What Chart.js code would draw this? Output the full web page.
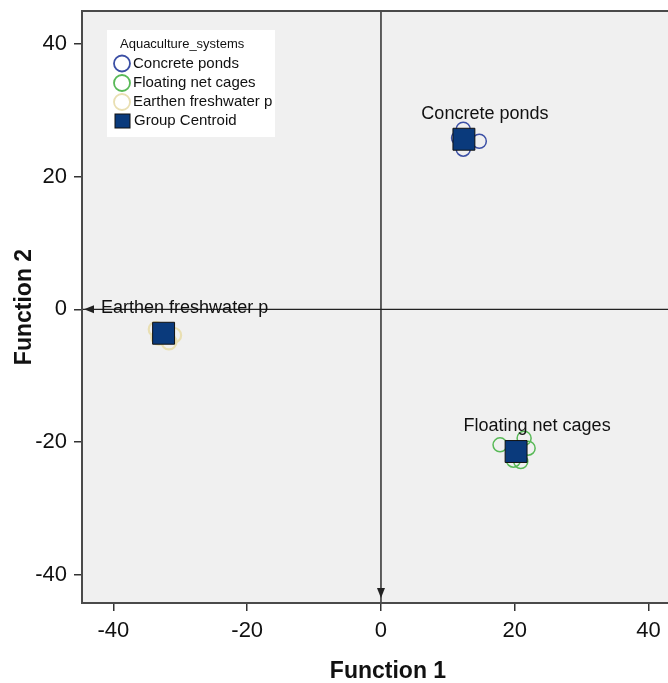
<!DOCTYPE html>
<html>
<head>
<meta charset="utf-8">
<script src="https://cdn.jsdelivr.net/npm/chart.js@4/dist/chart.umd.min.js"></script>
<style>
  html, body { margin: 0; padding: 0; background: #fff; overflow: hidden; }
  #wrap { width: 668px; height: 683px; overflow: hidden; }
</style>
</head>
<body>
<div id="wrap"><canvas id="c" width="694" height="683"></canvas></div>
<script>
// Discriminant scores per aquaculture system (Function 1, Function 2)
const groupNames = ['Concrete ponds', 'Floating net cages', 'Earthen freshwater p'];
const concreteF1 = [12.3, 11.6, 14.7, 12.3];
const concreteF2 = [27.1, 25.8, 25.3, 24.1];
const floatingF1 = [17.8, 21.4, 22.0, 19.8, 20.9];
const floatingF2 = [-20.4, -19.4, -20.9, -22.7, -22.9];
const earthenF1 = [-33.6, -33.2, -31.0, -31.7];
const earthenF2 = [-3.0, -4.2, -3.9, -4.9];
// Group centroids, same order as groupNames
const centroidF1 = [12.4, 20.2, -32.5];
const centroidF2 = [25.6, -21.4, -3.6];
const tickValues = [-40, -20, 0, 20, 40];
const legendTitle = 'Aquaculture_systems';
const centroidName = 'Group Centroid';

const groupColors = ['#3b4fa5', '#58b957', '#e9dfb2'];
const centroidFill = '#0a3a7c';
const FONT = '"Liberation Sans", Arial, Helvetica, sans-serif';

function pts(xs, ys) { return xs.map((x, i) => ({ x: x, y: ys[i] })); }

const plotBackground = {
  id: 'plotBackground',
  beforeDraw(chart) {
    const { ctx, chartArea: a } = chart;
    ctx.save();
    ctx.fillStyle = '#f0f0f0';
    ctx.fillRect(a.left, a.top, a.right - a.left, a.bottom - a.top);
    ctx.restore();
  }
};

// Zero reference lines with arrow heads at the lower / left ends
const zeroLines = {
  id: 'zeroLines',
  beforeDatasetsDraw(chart) {
    const { ctx, chartArea: a, scales } = chart;
    const x0 = scales.x.getPixelForValue(0);
    const y0 = scales.y.getPixelForValue(0);
    ctx.save();
    ctx.strokeStyle = '#222';
    ctx.fillStyle = '#222';
    ctx.lineWidth = 1.4;
    ctx.beginPath();
    ctx.moveTo(x0, a.top); ctx.lineTo(x0, a.bottom);
    ctx.moveTo(a.right, y0); ctx.lineTo(a.left, y0);
    ctx.stroke();
    // down arrow
    const tipY = a.bottom - 5;
    ctx.beginPath();
    ctx.moveTo(x0, tipY); ctx.lineTo(x0 - 4, tipY - 10); ctx.lineTo(x0 + 4, tipY - 10); ctx.closePath();
    ctx.fill();
    // left arrow
    const tipX = a.left + 2;
    ctx.beginPath();
    ctx.moveTo(tipX, y0); ctx.lineTo(tipX + 10, y0 - 4); ctx.lineTo(tipX + 10, y0 + 4); ctx.closePath();
    ctx.fill();
    ctx.restore();
  }
};

// Group names next to the centroids, legend box and plot frame
const annotations = {
  id: 'annotations',
  afterDatasetsDraw(chart) {
    const { ctx, chartArea: a, scales } = chart;
    ctx.save();
    ctx.fillStyle = '#111';
    ctx.font = '18px ' + FONT;
    ctx.textAlign = 'center';
    ctx.textBaseline = 'middle';
    groupNames.forEach((name, i) => {
      const px = scales.x.getPixelForValue(centroidF1[i]);
      const py = scales.y.getPixelForValue(centroidF2[i]);
      ctx.fillText(name, px + 21, py - 25);
    });

    // legend
    const lx = a.left + 25, ly = a.top + 19;
    ctx.fillStyle = '#ffffff';
    ctx.fillRect(lx, ly, 168, 107);
    ctx.textAlign = 'left';
    ctx.fillStyle = '#111';
    ctx.font = '13px ' + FONT;
    ctx.fillText(legendTitle, lx + 13, ly + 14);
    ctx.font = '15px ' + FONT;
    const rows = [ly + 33.5, ly + 53, ly + 72, ly + 91];
    groupNames.forEach((name, i) => {
      ctx.beginPath();
      ctx.arc(lx + 15, rows[i], 8, 0, Math.PI * 2);
      ctx.strokeStyle = groupColors[i];
      ctx.lineWidth = 1.8;
      ctx.stroke();
      ctx.fillStyle = '#111';
      ctx.fillText(name, lx + 26, rows[i]);
    });
    ctx.fillStyle = centroidFill;
    ctx.strokeStyle = '#111';
    ctx.lineWidth = 1;
    ctx.fillRect(lx + 8, rows[3] - 7, 15, 14);
    ctx.strokeRect(lx + 8, rows[3] - 7, 15, 14);
    ctx.fillStyle = '#111';
    ctx.fillText(centroidName, lx + 27, rows[3]);

    // frame
    ctx.strokeStyle = '#4a4a4a';
    ctx.lineWidth = 2;
    ctx.strokeRect(a.left, a.top, a.right - a.left, a.bottom - a.top);
    ctx.restore();
  }
};

const fixedTicks = (scale) => { scale.ticks = tickValues.map(v => ({ value: v })); };

new Chart(document.getElementById('c'), {
  type: 'scatter',
  data: {
    datasets: [
      {
        label: centroidName,
        data: pts(centroidF1, centroidF2),
        pointStyle: 'rect',
        pointRadius: 15.5,
        pointHoverRadius: 15.5,
        backgroundColor: centroidFill,
        borderColor: '#111',
        borderWidth: 1,
        order: 0
      },
      {
        label: groupNames[0],
        data: pts(concreteF1, concreteF2),
        pointRadius: 7, pointHoverRadius: 7,
        borderColor: groupColors[0], backgroundColor: 'rgba(0,0,0,0)', borderWidth: 1.5,
        order: 1
      },
      {
        label: groupNames[1],
        data: pts(floatingF1, floatingF2),
        pointRadius: 7, pointHoverRadius: 7,
        borderColor: groupColors[1], backgroundColor: 'rgba(0,0,0,0)', borderWidth: 1.5,
        order: 1
      },
      {
        label: groupNames[2],
        data: pts(earthenF1, earthenF2),
        pointRadius: 7.5, pointHoverRadius: 7.5,
        borderColor: groupColors[2], backgroundColor: 'rgba(0,0,0,0)', borderWidth: 2.2,
        order: 1
      }
    ]
  },
  options: {
    responsive: false,
    animation: false,
    devicePixelRatio: 1,
    layout: { autoPadding: false, padding: { top: 11, left: 0, right: 0, bottom: 0 } },
    plugins: { legend: { display: false }, tooltip: { enabled: false } },
    scales: {
      x: {
        type: 'linear',
        min: -44.7, max: 46.8,
        afterBuildTicks: fixedTicks,
        afterFit(scale) { scale.height = 80; scale.paddingLeft = 0; scale.paddingRight = 0; },
        grid: { drawOnChartArea: false, drawTicks: true, tickLength: 8, color: '#333', lineWidth: 1.5 },
        border: { display: false },
        ticks: { color: '#111', font: { family: FONT, size: 22 }, padding: 7, maxRotation: 0 },
        title: {
          display: true, text: 'Function 1', color: '#111',
          font: { family: FONT, size: 23, weight: 'bold', lineHeight: 1 },
          padding: { top: 0, bottom: 0 }
        }
      },
      y: {
        type: 'linear',
        min: -44.2, max: 44.9,
        afterBuildTicks: fixedTicks,
        afterFit(scale) { scale.width = 82; scale.paddingTop = 0; scale.paddingBottom = 0; },
        grid: { drawOnChartArea: false, drawTicks: true, tickLength: 8, color: '#333', lineWidth: 1.5 },
        border: { display: false },
        ticks: { color: '#111', font: { family: FONT, size: 22 }, padding: 7 },
        title: {
          display: true, text: 'Function 2', color: '#111',
          font: { family: FONT, size: 23, weight: 'bold', lineHeight: 1 },
          padding: { top: 13.5, bottom: 0 }
        }
      }
    }
  },
  plugins: [plotBackground, zeroLines, annotations]
});
</script>
</body>
</html>
